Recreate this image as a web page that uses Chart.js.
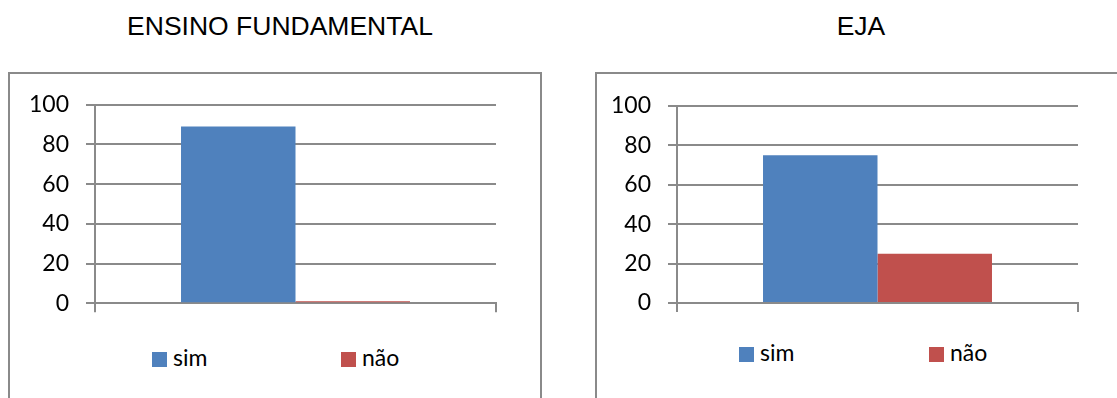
<!DOCTYPE html>
<html>
<head>
<meta charset="utf-8">
<script src="https://cdn.jsdelivr.net/npm/chart.js@4/dist/chart.umd.min.js"></script>
<style>
  html, body { margin: 0; padding: 0; background: #fff; }
  body { width: 1117px; height: 398px; position: relative; overflow: hidden; }
  .title { position: absolute; font-family: "Liberation Sans", Arial, sans-serif; font-size: 26.5px; line-height: 26.5px; color: #000; text-align: center; white-space: nowrap; }
  .frame { position: absolute; box-sizing: border-box; border: 2px solid #8a8a8a; background: #fff; }
  canvas { position: absolute; }
  .lg-box { position: absolute; width: 15px; height: 15px; }
  .lg-text { position: absolute; font-family: Lato, "Open Sans", sans-serif; font-size: 23px; line-height: 23px; color: #000; white-space: nowrap; }
</style>
</head>
<body>
<div class="title" style="left:0; top:12.6px; width:560px;">ENSINO FUNDAMENTAL</div>
<div class="title" style="left:661px; top:12.6px; width:400px;">EJA</div>

<div class="frame" style="left:8px; top:72px; width:534px; height:340px;"></div>
<div class="frame" style="left:595px; top:72px; width:600px; height:340px;"></div>

<canvas id="chartFund" width="520" height="260" style="left:10px; top:74px; width:520px; height:260px;"></canvas>
<canvas id="chartEja" width="520" height="260" style="left:597px; top:74px; width:520px; height:260px;"></canvas>

<div id="legendFund"></div>
<div id="legendEja"></div>

<script>
// Answer categories and their colours
const answers = ['sim', 'não'];
const answerColors = ['#4F81BD', '#C0504D'];

// Percentages per group
const fundamentalValues = [89, 1];
const ejaValues = [75, 25];

// Value axis
const yTickValues = [0, 20, 40, 60, 80, 100];

const AXIS_GRAY = '#8a8a8a';
const TICK_FONT = { family: 'Lato, "Open Sans", sans-serif', size: 23 };

function makeChart(canvasId, values, yAxisWidth, padding) {
  const datasets = answers.map((name, i) => ({
    label: name,
    data: [values[i]],
    backgroundColor: answerColors[i],
    borderWidth: 0,
    categoryPercentage: 0.571,
    barPercentage: 1.0
  }));

  return new Chart(document.getElementById(canvasId), {
    type: 'bar',
    data: { labels: [''], datasets },
    options: {
      responsive: false,
      animation: false,
      devicePixelRatio: 1,
      layout: { padding },
      plugins: {
        legend: { display: false },
        tooltip: { enabled: false },
        title: { display: false }
      },
      scales: {
        x: {
          z: 1,
          grid: {
            offset: true,
            drawOnChartArea: false,
            drawTicks: true,
            tickLength: 9,
            color: AXIS_GRAY,
            lineWidth: 2
          },
          border: { display: true, color: AXIS_GRAY, width: 2 },
          ticks: { display: false },
          afterFit(scale) { scale.height = 10; }
        },
        y: {
          min: 0,
          max: 100,
          afterBuildTicks(scale) {
            scale.ticks = yTickValues.map(v => ({ value: v }));
          },
          grid: {
            color: AXIS_GRAY,
            lineWidth: 2,
            drawTicks: true,
            tickLength: 9
          },
          border: { display: true, color: AXIS_GRAY, width: 2 },
          ticks: {
            color: '#000',
            font: TICK_FONT,
            padding: 17
          },
          afterFit(scale) { scale.width = yAxisWidth; }
        }
      }
    }
  });
}

makeChart('chartFund', fundamentalValues, 85, { left: 0, right: 34, top: 29, bottom: 20 });
makeChart('chartEja', ejaValues, 80, { left: 0, right: 39, top: 32, bottom: 21 });

// Legend rows below each plot
function buildLegend(containerId, positions, top) {
  const host = document.getElementById(containerId);
  answers.forEach((name, i) => {
    const box = document.createElement('div');
    box.className = 'lg-box';
    box.style.left = positions[i] + 'px';
    box.style.top = (top + 6) + 'px';
    box.style.background = answerColors[i];
    host.appendChild(box);

    const txt = document.createElement('div');
    txt.className = 'lg-text';
    txt.style.left = (positions[i] + 21) + 'px';
    txt.style.top = top + 'px';
    txt.textContent = name;
    host.appendChild(txt);
  });
}

buildLegend('legendFund', [152, 341], 346);
buildLegend('legendEja', [739, 929], 341);
</script>
</body>
</html>
